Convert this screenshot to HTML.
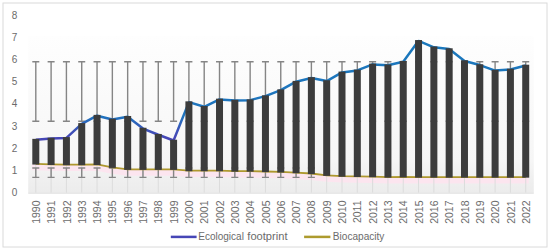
<!DOCTYPE html><html><head><meta charset="utf-8"><style>
html,body{margin:0;padding:0;background:#fff;}
svg{display:block;}
text{font-family:"Liberation Sans",sans-serif;fill:#6b6b6b;}
</style></head><body>
<svg width="550" height="250" viewBox="0 0 550 250">
<defs>
<linearGradient id="pa" x1="0" y1="0" x2="0" y2="1"><stop offset="0" stop-color="#fefefe"/><stop offset="0.5" stop-color="#f9f9f9"/><stop offset="0.8" stop-color="#f6f6f6"/><stop offset="0.9" stop-color="#f0f0f0"/><stop offset="1" stop-color="#ececec"/></linearGradient>
<linearGradient id="lg" gradientUnits="userSpaceOnUse" x1="0" y1="138" x2="0" y2="40"><stop offset="0" stop-color="#4646b6"/><stop offset="0.08" stop-color="#3c52b8"/><stop offset="0.22" stop-color="#1f74be"/><stop offset="1" stop-color="#1a78bc"/></linearGradient>
</defs>
<rect x="3" y="3" width="544" height="244" fill="#fff" stroke="#dadada" stroke-width="1"/>
<rect x="28.2" y="36" width="505.6" height="156.6" fill="url(#pa)"/>
<polyline points="31.8,167.36 35.80,167.36 51.11,167.81 66.42,168.03 81.73,168.03 97.04,167.81 112.35,170.69 127.66,172.69 142.97,172.69 158.28,172.69 173.59,172.69 188.90,174.02 204.21,174.02 219.52,174.02 234.83,174.47 250.14,174.47 265.45,174.91 280.76,175.35 296.07,176.02 311.38,176.91 326.69,178.68 342.00,179.57 357.31,179.79 372.62,180.02 387.93,180.46 403.24,180.24 418.55,180.46 433.86,180.46 449.17,180.46 464.48,180.46 479.79,180.46 495.10,180.46 510.41,180.46 525.72,180.46 528.7,180.46" fill="none" stroke="#fce5ef" stroke-width="6"/>
<line x1="35.80" y1="163.96" x2="35.80" y2="192.60" stroke="#dcdcdc" stroke-width="1"/>
<line x1="51.11" y1="164.41" x2="51.11" y2="192.60" stroke="#dcdcdc" stroke-width="1"/>
<line x1="66.42" y1="164.63" x2="66.42" y2="192.60" stroke="#dcdcdc" stroke-width="1"/>
<line x1="81.73" y1="164.63" x2="81.73" y2="192.60" stroke="#dcdcdc" stroke-width="1"/>
<line x1="97.04" y1="164.41" x2="97.04" y2="192.60" stroke="#dcdcdc" stroke-width="1"/>
<line x1="112.35" y1="167.29" x2="112.35" y2="192.60" stroke="#dcdcdc" stroke-width="1"/>
<line x1="127.66" y1="169.29" x2="127.66" y2="192.60" stroke="#dcdcdc" stroke-width="1"/>
<line x1="142.97" y1="169.29" x2="142.97" y2="192.60" stroke="#dcdcdc" stroke-width="1"/>
<line x1="158.28" y1="169.29" x2="158.28" y2="192.60" stroke="#dcdcdc" stroke-width="1"/>
<line x1="173.59" y1="169.29" x2="173.59" y2="192.60" stroke="#dcdcdc" stroke-width="1"/>
<line x1="188.90" y1="170.62" x2="188.90" y2="192.60" stroke="#dcdcdc" stroke-width="1"/>
<line x1="204.21" y1="170.62" x2="204.21" y2="192.60" stroke="#dcdcdc" stroke-width="1"/>
<line x1="219.52" y1="170.62" x2="219.52" y2="192.60" stroke="#dcdcdc" stroke-width="1"/>
<line x1="234.83" y1="171.07" x2="234.83" y2="192.60" stroke="#dcdcdc" stroke-width="1"/>
<line x1="250.14" y1="171.07" x2="250.14" y2="192.60" stroke="#dcdcdc" stroke-width="1"/>
<line x1="265.45" y1="171.51" x2="265.45" y2="192.60" stroke="#dcdcdc" stroke-width="1"/>
<line x1="280.76" y1="171.95" x2="280.76" y2="192.60" stroke="#dcdcdc" stroke-width="1"/>
<line x1="296.07" y1="172.62" x2="296.07" y2="192.60" stroke="#dcdcdc" stroke-width="1"/>
<line x1="311.38" y1="173.51" x2="311.38" y2="192.60" stroke="#dcdcdc" stroke-width="1"/>
<line x1="326.69" y1="175.28" x2="326.69" y2="192.60" stroke="#dcdcdc" stroke-width="1"/>
<line x1="342.00" y1="176.17" x2="342.00" y2="192.60" stroke="#dcdcdc" stroke-width="1"/>
<line x1="357.31" y1="176.39" x2="357.31" y2="192.60" stroke="#dcdcdc" stroke-width="1"/>
<line x1="372.62" y1="176.62" x2="372.62" y2="192.60" stroke="#dcdcdc" stroke-width="1"/>
<line x1="387.93" y1="177.06" x2="387.93" y2="192.60" stroke="#dcdcdc" stroke-width="1"/>
<line x1="403.24" y1="176.84" x2="403.24" y2="192.60" stroke="#dcdcdc" stroke-width="1"/>
<line x1="418.55" y1="177.06" x2="418.55" y2="192.60" stroke="#dcdcdc" stroke-width="1"/>
<line x1="433.86" y1="177.06" x2="433.86" y2="192.60" stroke="#dcdcdc" stroke-width="1"/>
<line x1="449.17" y1="177.06" x2="449.17" y2="192.60" stroke="#dcdcdc" stroke-width="1"/>
<line x1="464.48" y1="177.06" x2="464.48" y2="192.60" stroke="#dcdcdc" stroke-width="1"/>
<line x1="479.79" y1="177.06" x2="479.79" y2="192.60" stroke="#dcdcdc" stroke-width="1"/>
<line x1="495.10" y1="177.06" x2="495.10" y2="192.60" stroke="#dcdcdc" stroke-width="1"/>
<line x1="510.41" y1="177.06" x2="510.41" y2="192.60" stroke="#dcdcdc" stroke-width="1"/>
<line x1="525.72" y1="177.06" x2="525.72" y2="192.60" stroke="#dcdcdc" stroke-width="1"/>
<line x1="28.2" y1="193.10" x2="533.8" y2="193.10" stroke="#d9d9d9" stroke-width="1"/>
<path d="M35.80 61.7 V121.3 M32.30 61.7 H39.30 M32.30 121.3 H39.30" stroke="#858585" stroke-width="1.4" fill="none"/>
<path d="M35.80 168.0 V177.4 M32.30 168.0 H39.30 M32.30 177.4 H39.30" stroke="#858585" stroke-width="1.4" fill="none"/>
<path d="M51.11 61.7 V121.3 M47.61 61.7 H54.61 M47.61 121.3 H54.61" stroke="#858585" stroke-width="1.4" fill="none"/>
<path d="M51.11 168.0 V177.4 M47.61 168.0 H54.61 M47.61 177.4 H54.61" stroke="#858585" stroke-width="1.4" fill="none"/>
<path d="M66.42 61.7 V121.3 M62.92 61.7 H69.92 M62.92 121.3 H69.92" stroke="#858585" stroke-width="1.4" fill="none"/>
<path d="M66.42 168.0 V177.4 M62.92 168.0 H69.92 M62.92 177.4 H69.92" stroke="#858585" stroke-width="1.4" fill="none"/>
<path d="M81.73 61.7 V121.3 M78.23 61.7 H85.23 M78.23 121.3 H85.23" stroke="#858585" stroke-width="1.4" fill="none"/>
<path d="M81.73 168.0 V177.4 M78.23 168.0 H85.23 M78.23 177.4 H85.23" stroke="#858585" stroke-width="1.4" fill="none"/>
<path d="M97.04 61.7 V121.3 M93.54 61.7 H100.54 M93.54 121.3 H100.54" stroke="#858585" stroke-width="1.4" fill="none"/>
<path d="M97.04 168.0 V177.4 M93.54 168.0 H100.54 M93.54 177.4 H100.54" stroke="#858585" stroke-width="1.4" fill="none"/>
<path d="M112.35 61.7 V121.3 M108.85 61.7 H115.85 M108.85 121.3 H115.85" stroke="#858585" stroke-width="1.4" fill="none"/>
<path d="M112.35 168.0 V177.4 M108.85 168.0 H115.85 M108.85 177.4 H115.85" stroke="#858585" stroke-width="1.4" fill="none"/>
<path d="M127.66 61.7 V121.3 M124.16 61.7 H131.16 M124.16 121.3 H131.16" stroke="#858585" stroke-width="1.4" fill="none"/>
<path d="M127.66 168.0 V177.4 M124.16 168.0 H131.16 M124.16 177.4 H131.16" stroke="#858585" stroke-width="1.4" fill="none"/>
<path d="M142.97 61.7 V121.3 M139.47 61.7 H146.47 M139.47 121.3 H146.47" stroke="#858585" stroke-width="1.4" fill="none"/>
<path d="M142.97 168.0 V177.4 M139.47 168.0 H146.47 M139.47 177.4 H146.47" stroke="#858585" stroke-width="1.4" fill="none"/>
<path d="M158.28 61.7 V121.3 M154.78 61.7 H161.78 M154.78 121.3 H161.78" stroke="#858585" stroke-width="1.4" fill="none"/>
<path d="M158.28 168.0 V177.4 M154.78 168.0 H161.78 M154.78 177.4 H161.78" stroke="#858585" stroke-width="1.4" fill="none"/>
<path d="M173.59 61.7 V121.3 M170.09 61.7 H177.09 M170.09 121.3 H177.09" stroke="#858585" stroke-width="1.4" fill="none"/>
<path d="M173.59 168.0 V177.4 M170.09 168.0 H177.09 M170.09 177.4 H177.09" stroke="#858585" stroke-width="1.4" fill="none"/>
<path d="M188.90 61.7 V121.3 M185.40 61.7 H192.40 M185.40 121.3 H192.40" stroke="#858585" stroke-width="1.4" fill="none"/>
<path d="M188.90 168.0 V177.4 M185.40 168.0 H192.40 M185.40 177.4 H192.40" stroke="#858585" stroke-width="1.4" fill="none"/>
<path d="M204.21 61.7 V121.3 M200.71 61.7 H207.71 M200.71 121.3 H207.71" stroke="#858585" stroke-width="1.4" fill="none"/>
<path d="M204.21 168.0 V177.4 M200.71 168.0 H207.71 M200.71 177.4 H207.71" stroke="#858585" stroke-width="1.4" fill="none"/>
<path d="M219.52 61.7 V121.3 M216.02 61.7 H223.02 M216.02 121.3 H223.02" stroke="#858585" stroke-width="1.4" fill="none"/>
<path d="M219.52 168.0 V177.4 M216.02 168.0 H223.02 M216.02 177.4 H223.02" stroke="#858585" stroke-width="1.4" fill="none"/>
<path d="M234.83 61.7 V121.3 M231.33 61.7 H238.33 M231.33 121.3 H238.33" stroke="#858585" stroke-width="1.4" fill="none"/>
<path d="M234.83 168.0 V177.4 M231.33 168.0 H238.33 M231.33 177.4 H238.33" stroke="#858585" stroke-width="1.4" fill="none"/>
<path d="M250.14 61.7 V121.3 M246.64 61.7 H253.64 M246.64 121.3 H253.64" stroke="#858585" stroke-width="1.4" fill="none"/>
<path d="M250.14 168.0 V177.4 M246.64 168.0 H253.64 M246.64 177.4 H253.64" stroke="#858585" stroke-width="1.4" fill="none"/>
<path d="M265.45 61.7 V121.3 M261.95 61.7 H268.95 M261.95 121.3 H268.95" stroke="#858585" stroke-width="1.4" fill="none"/>
<path d="M265.45 168.0 V177.4 M261.95 168.0 H268.95 M261.95 177.4 H268.95" stroke="#858585" stroke-width="1.4" fill="none"/>
<path d="M280.76 61.7 V121.3 M277.26 61.7 H284.26 M277.26 121.3 H284.26" stroke="#858585" stroke-width="1.4" fill="none"/>
<path d="M280.76 168.0 V177.4 M277.26 168.0 H284.26 M277.26 177.4 H284.26" stroke="#858585" stroke-width="1.4" fill="none"/>
<path d="M296.07 61.7 V121.3 M292.57 61.7 H299.57 M292.57 121.3 H299.57" stroke="#858585" stroke-width="1.4" fill="none"/>
<path d="M296.07 168.0 V177.4 M292.57 168.0 H299.57 M292.57 177.4 H299.57" stroke="#858585" stroke-width="1.4" fill="none"/>
<path d="M311.38 61.7 V121.3 M307.88 61.7 H314.88 M307.88 121.3 H314.88" stroke="#858585" stroke-width="1.4" fill="none"/>
<path d="M311.38 168.0 V177.4 M307.88 168.0 H314.88 M307.88 177.4 H314.88" stroke="#858585" stroke-width="1.4" fill="none"/>
<path d="M326.69 61.7 V121.3 M323.19 61.7 H330.19 M323.19 121.3 H330.19" stroke="#858585" stroke-width="1.4" fill="none"/>
<path d="M342.00 61.7 V121.3 M338.50 61.7 H345.50 M338.50 121.3 H345.50" stroke="#858585" stroke-width="1.4" fill="none"/>
<path d="M357.31 61.7 V121.3 M353.81 61.7 H360.81 M353.81 121.3 H360.81" stroke="#858585" stroke-width="1.4" fill="none"/>
<path d="M372.62 61.7 V121.3 M369.12 61.7 H376.12 M369.12 121.3 H376.12" stroke="#858585" stroke-width="1.4" fill="none"/>
<path d="M387.93 61.7 V121.3 M384.43 61.7 H391.43 M384.43 121.3 H391.43" stroke="#858585" stroke-width="1.4" fill="none"/>
<path d="M403.24 61.7 V121.3 M399.74 61.7 H406.74 M399.74 121.3 H406.74" stroke="#858585" stroke-width="1.4" fill="none"/>
<path d="M418.55 61.7 V121.3 M415.05 61.7 H422.05 M415.05 121.3 H422.05" stroke="#858585" stroke-width="1.4" fill="none"/>
<path d="M433.86 61.7 V121.3 M430.36 61.7 H437.36 M430.36 121.3 H437.36" stroke="#858585" stroke-width="1.4" fill="none"/>
<path d="M449.17 61.7 V121.3 M445.67 61.7 H452.67 M445.67 121.3 H452.67" stroke="#858585" stroke-width="1.4" fill="none"/>
<path d="M464.48 61.7 V121.3 M460.98 61.7 H467.98 M460.98 121.3 H467.98" stroke="#858585" stroke-width="1.4" fill="none"/>
<path d="M479.79 61.7 V121.3 M476.29 61.7 H483.29 M476.29 121.3 H483.29" stroke="#858585" stroke-width="1.4" fill="none"/>
<path d="M495.10 61.7 V121.3 M491.60 61.7 H498.60 M491.60 121.3 H498.60" stroke="#858585" stroke-width="1.4" fill="none"/>
<path d="M510.41 61.7 V121.3 M506.91 61.7 H513.91 M506.91 121.3 H513.91" stroke="#858585" stroke-width="1.4" fill="none"/>
<path d="M525.72 61.7 V121.3 M522.22 61.7 H529.22 M522.22 121.3 H529.22" stroke="#858585" stroke-width="1.4" fill="none"/>
<polyline points="35.80,139.65 51.11,138.54 66.42,137.88 81.73,123.89 97.04,115.68 112.35,119.45 127.66,116.79 142.97,128.55 158.28,134.77 173.59,140.54 188.90,102.14 204.21,106.80 219.52,99.47 234.83,100.58 250.14,100.14 265.45,96.14 280.76,90.15 296.07,81.71 311.38,77.94 326.69,81.05 342.00,72.39 357.31,70.39 372.62,64.40 387.93,65.28 403.24,61.73 418.55,40.86 433.86,47.30 449.17,49.08 464.48,61.06 479.79,65.06 495.10,70.61 510.41,69.50 525.72,65.51" fill="none" stroke="url(#lg)" stroke-width="2.5" stroke-linejoin="bevel"/>
<polyline points="35.80,163.96 51.11,164.41 66.42,164.63 81.73,164.63 97.04,164.41 112.35,167.29 127.66,169.29 142.97,169.29 158.28,169.29 173.59,169.29 188.90,170.62 204.21,170.62 219.52,170.62 234.83,171.07 250.14,171.07 265.45,171.51 280.76,171.95 296.07,172.62 311.38,173.51 326.69,175.28 342.00,176.17 357.31,176.39 372.62,176.62 387.93,177.06 403.24,176.84 418.55,177.06 433.86,177.06 449.17,177.06 464.48,177.06 479.79,177.06 495.10,177.06 510.41,177.06 525.72,177.06" fill="none" stroke="#ae982e" stroke-width="1.8" stroke-linejoin="round"/>
<rect x="32.30" y="138.85" width="7.0" height="25.71" fill="#3c3c3c"/>
<rect x="47.61" y="137.74" width="7.0" height="27.26" fill="#3c3c3c"/>
<rect x="62.92" y="137.08" width="7.0" height="28.15" fill="#3c3c3c"/>
<rect x="78.23" y="123.09" width="7.0" height="42.14" fill="#3c3c3c"/>
<rect x="93.54" y="114.88" width="7.0" height="50.13" fill="#3c3c3c"/>
<rect x="108.85" y="118.65" width="7.0" height="49.24" fill="#3c3c3c"/>
<rect x="124.16" y="115.99" width="7.0" height="53.90" fill="#3c3c3c"/>
<rect x="139.47" y="127.75" width="7.0" height="42.14" fill="#3c3c3c"/>
<rect x="154.78" y="133.97" width="7.0" height="35.92" fill="#3c3c3c"/>
<rect x="170.09" y="139.74" width="7.0" height="30.15" fill="#3c3c3c"/>
<rect x="185.40" y="101.34" width="7.0" height="69.89" fill="#3c3c3c"/>
<rect x="200.71" y="106.00" width="7.0" height="65.22" fill="#3c3c3c"/>
<rect x="216.02" y="98.67" width="7.0" height="72.55" fill="#3c3c3c"/>
<rect x="231.33" y="99.78" width="7.0" height="71.89" fill="#3c3c3c"/>
<rect x="246.64" y="99.34" width="7.0" height="72.33" fill="#3c3c3c"/>
<rect x="261.95" y="95.34" width="7.0" height="76.77" fill="#3c3c3c"/>
<rect x="277.26" y="89.35" width="7.0" height="83.21" fill="#3c3c3c"/>
<rect x="292.57" y="80.91" width="7.0" height="92.31" fill="#3c3c3c"/>
<rect x="307.88" y="77.14" width="7.0" height="96.97" fill="#3c3c3c"/>
<rect x="323.19" y="80.25" width="7.0" height="95.64" fill="#3c3c3c"/>
<rect x="338.50" y="71.59" width="7.0" height="105.19" fill="#3c3c3c"/>
<rect x="353.81" y="69.59" width="7.0" height="107.41" fill="#3c3c3c"/>
<rect x="369.12" y="63.60" width="7.0" height="113.62" fill="#3c3c3c"/>
<rect x="384.43" y="64.48" width="7.0" height="113.18" fill="#3c3c3c"/>
<rect x="399.74" y="60.93" width="7.0" height="116.51" fill="#3c3c3c"/>
<rect x="415.05" y="40.06" width="7.0" height="137.60" fill="#3c3c3c"/>
<rect x="430.36" y="46.50" width="7.0" height="131.16" fill="#3c3c3c"/>
<rect x="445.67" y="48.28" width="7.0" height="129.38" fill="#3c3c3c"/>
<rect x="460.98" y="60.27" width="7.0" height="117.40" fill="#3c3c3c"/>
<rect x="476.29" y="64.26" width="7.0" height="113.40" fill="#3c3c3c"/>
<rect x="491.60" y="69.81" width="7.0" height="107.85" fill="#3c3c3c"/>
<rect x="506.91" y="68.70" width="7.0" height="108.96" fill="#3c3c3c"/>
<rect x="522.22" y="64.71" width="7.0" height="112.95" fill="#3c3c3c"/>
<text x="17.2" y="196.20" font-size="10" text-anchor="end">0</text>
<text x="17.2" y="174.00" font-size="10" text-anchor="end">1</text>
<text x="17.2" y="151.80" font-size="10" text-anchor="end">2</text>
<text x="17.2" y="129.60" font-size="10" text-anchor="end">3</text>
<text x="17.2" y="107.40" font-size="10" text-anchor="end">4</text>
<text x="17.2" y="85.20" font-size="10" text-anchor="end">5</text>
<text x="17.2" y="63.00" font-size="10" text-anchor="end">6</text>
<text x="17.2" y="40.80" font-size="10" text-anchor="end">7</text>
<text x="17.2" y="18.60" font-size="10" text-anchor="end">8</text>
<text transform="translate(39.90,200.5) rotate(-90)" font-size="10.5" text-anchor="end">1990</text>
<text transform="translate(55.21,200.5) rotate(-90)" font-size="10.5" text-anchor="end">1991</text>
<text transform="translate(70.52,200.5) rotate(-90)" font-size="10.5" text-anchor="end">1992</text>
<text transform="translate(85.83,200.5) rotate(-90)" font-size="10.5" text-anchor="end">1993</text>
<text transform="translate(101.14,200.5) rotate(-90)" font-size="10.5" text-anchor="end">1994</text>
<text transform="translate(116.45,200.5) rotate(-90)" font-size="10.5" text-anchor="end">1995</text>
<text transform="translate(131.76,200.5) rotate(-90)" font-size="10.5" text-anchor="end">1996</text>
<text transform="translate(147.07,200.5) rotate(-90)" font-size="10.5" text-anchor="end">1997</text>
<text transform="translate(162.38,200.5) rotate(-90)" font-size="10.5" text-anchor="end">1998</text>
<text transform="translate(177.69,200.5) rotate(-90)" font-size="10.5" text-anchor="end">1999</text>
<text transform="translate(193.00,200.5) rotate(-90)" font-size="10.5" text-anchor="end">2000</text>
<text transform="translate(208.31,200.5) rotate(-90)" font-size="10.5" text-anchor="end">2001</text>
<text transform="translate(223.62,200.5) rotate(-90)" font-size="10.5" text-anchor="end">2002</text>
<text transform="translate(238.93,200.5) rotate(-90)" font-size="10.5" text-anchor="end">2003</text>
<text transform="translate(254.24,200.5) rotate(-90)" font-size="10.5" text-anchor="end">2004</text>
<text transform="translate(269.55,200.5) rotate(-90)" font-size="10.5" text-anchor="end">2005</text>
<text transform="translate(284.86,200.5) rotate(-90)" font-size="10.5" text-anchor="end">2006</text>
<text transform="translate(300.17,200.5) rotate(-90)" font-size="10.5" text-anchor="end">2007</text>
<text transform="translate(315.48,200.5) rotate(-90)" font-size="10.5" text-anchor="end">2008</text>
<text transform="translate(330.79,200.5) rotate(-90)" font-size="10.5" text-anchor="end">2009</text>
<text transform="translate(346.10,200.5) rotate(-90)" font-size="10.5" text-anchor="end">2010</text>
<text transform="translate(361.41,200.5) rotate(-90)" font-size="10.5" text-anchor="end">2011</text>
<text transform="translate(376.72,200.5) rotate(-90)" font-size="10.5" text-anchor="end">2012</text>
<text transform="translate(392.03,200.5) rotate(-90)" font-size="10.5" text-anchor="end">2013</text>
<text transform="translate(407.34,200.5) rotate(-90)" font-size="10.5" text-anchor="end">2014</text>
<text transform="translate(422.65,200.5) rotate(-90)" font-size="10.5" text-anchor="end">2015</text>
<text transform="translate(437.96,200.5) rotate(-90)" font-size="10.5" text-anchor="end">2016</text>
<text transform="translate(453.27,200.5) rotate(-90)" font-size="10.5" text-anchor="end">2017</text>
<text transform="translate(468.58,200.5) rotate(-90)" font-size="10.5" text-anchor="end">2018</text>
<text transform="translate(483.89,200.5) rotate(-90)" font-size="10.5" text-anchor="end">2019</text>
<text transform="translate(499.20,200.5) rotate(-90)" font-size="10.5" text-anchor="end">2020</text>
<text transform="translate(514.51,200.5) rotate(-90)" font-size="10.5" text-anchor="end">2021</text>
<text transform="translate(529.82,200.5) rotate(-90)" font-size="10.5" text-anchor="end">2022</text>
<line x1="170.8" y1="236.9" x2="196.6" y2="236.9" stroke="#4646b6" stroke-width="2.5"/>
<text x="198.3" y="239.8" font-size="10">Ecological</text>
<text x="247.3" y="239.8" font-size="10" textLength="40.2" lengthAdjust="spacingAndGlyphs">footprint</text>
<line x1="304.1" y1="236.9" x2="330.4" y2="236.9" stroke="#ad9b2e" stroke-width="2.5"/>
<text x="332.8" y="239.8" font-size="10" textLength="51.6" lengthAdjust="spacingAndGlyphs">Biocapacity</text>
</svg></body></html>
